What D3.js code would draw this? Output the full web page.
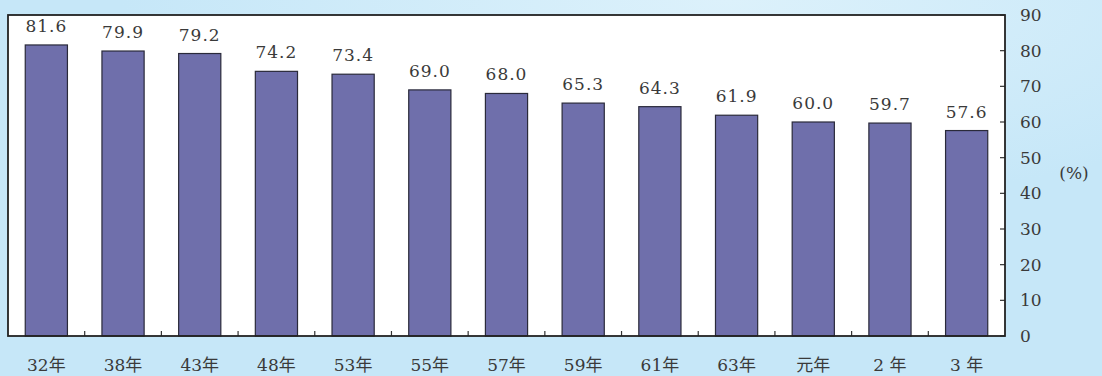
<!DOCTYPE html>
<html>
<head>
<meta charset="utf-8">
<script src="https://cdn.jsdelivr.net/npm/d3@7"></script>
<style>
  html, body { margin: 0; padding: 0; background: #c6e7f8; }
  svg { display: block; }
  .serif { font-family: "DejaVu Serif", "Liberation Serif", serif; }
  .cat { font-family: "DejaVu Serif", "Noto Sans CJK JP", serif; }
</style>
</head>
<body>
<svg id="chart" width="1102" height="376"></svg>
<script>
// Years (Showa / Heisei era) and the share in percent
const categories = ["32年", "38年", "43年", "48年", "53年", "55年", "57年", "59年", "61年", "63年", "元年", "2 年", "3 年"];
const values = [81.6, 79.9, 79.2, 74.2, 73.4, 69.0, 68.0, 65.3, 64.3, 61.9, 60.0, 59.7, 57.6];
const yTicks = [0, 10, 20, 30, 40, 50, 60, 70, 80, 90];
const unitLabel = "(%)";

const svg = d3.select("#chart");
const W = 1102, H = 376;
const plot = { left: 8, top: 15, right: 1005, bottom: 336 };
const textColor = "#3a3a3a";

// soft light-blue backdrop with a brighter patch near the top
const defs = svg.append("defs");
const grad = defs.append("radialGradient").attr("id", "bg")
  .attr("cx", "0.66").attr("cy", "0.0").attr("r", "0.55");
grad.append("stop").attr("offset", "0").attr("stop-color", "#dcf1fb");
grad.append("stop").attr("offset", "1").attr("stop-color", "#c6e7f8");
svg.append("rect").attr("width", W).attr("height", H).attr("fill", "url(#bg)");

const x = d3.scaleBand()
  .domain(categories)
  .range([plot.left, plot.right])
  .paddingInner(0.45)
  .paddingOuter(0.225);

const y = d3.scaleLinear().domain([0, 90]).range([plot.bottom, plot.top]);

// white plotting area
svg.append("rect")
  .attr("x", plot.left).attr("y", plot.top)
  .attr("width", plot.right - plot.left).attr("height", plot.bottom - plot.top)
  .attr("fill", "#ffffff");

// bars
svg.append("g").selectAll("rect")
  .data(values)
  .join("rect")
  .attr("x", (d, i) => x(categories[i]))
  .attr("y", d => y(d))
  .attr("width", x.bandwidth())
  .attr("height", d => y(0) - y(d))
  .attr("fill", "#6f6fab")
  .attr("stroke", "#2a2a3a")
  .attr("stroke-width", 1.2);

// value labels
svg.append("g").selectAll("text")
  .data(values)
  .join("text")
  .attr("class", "serif")
  .attr("x", (d, i) => x(categories[i]) + x.bandwidth() / 2)
  .attr("y", d => y(d) - 13)
  .attr("text-anchor", "middle")
  .attr("font-size", 17)
  .attr("letter-spacing", 1)
  .attr("fill", textColor)
  .text(d => d.toFixed(1));

// right axis labels
const yAxis = d3.axisRight(y).tickValues(yTicks).tickSize(0).tickPadding(15);
const ya = svg.append("g").attr("transform", `translate(${plot.right},0)`).call(yAxis);
ya.select(".domain").remove();
ya.selectAll("text")
  .attr("class", "serif")
  .attr("font-family", null)
  .attr("font-size", 17)
  .attr("fill", textColor);

// inward ticks on the right edge
svg.append("g").selectAll("line")
  .data(yTicks)
  .join("line")
  .attr("x1", plot.right - 5).attr("x2", plot.right)
  .attr("y1", d => y(d)).attr("y2", d => y(d))
  .attr("stroke", "#333").attr("stroke-width", 1.2);

// small upward ticks between bars along the baseline
const step = x.step();
const boundaries = categories.slice(1).map(c => x(c) - step * x.paddingInner() / 2);
svg.append("g").selectAll("line")
  .data(boundaries)
  .join("line")
  .attr("x1", d => d).attr("x2", d => d)
  .attr("y1", plot.bottom - 5).attr("y2", plot.bottom)
  .attr("stroke", "#333").attr("stroke-width", 1.2);

// frame
svg.append("rect")
  .attr("x", plot.left).attr("y", plot.top)
  .attr("width", plot.right - plot.left).attr("height", plot.bottom - plot.top)
  .attr("fill", "none")
  .attr("stroke", "#222")
  .attr("stroke-width", 1.8);

// category labels
svg.append("g").selectAll("text")
  .data(categories)
  .join("text")
  .attr("class", "cat")
  .attr("x", d => x(d) + x.bandwidth() / 2)
  .attr("y", 371)
  .attr("text-anchor", "middle")
  .attr("font-size", 17)
  .attr("fill", textColor)
  .text(d => d);

// unit
svg.append("text")
  .attr("class", "serif")
  .attr("x", 1074).attr("y", 179)
  .attr("text-anchor", "middle")
  .attr("font-size", 17)
  .attr("fill", textColor)
  .text(unitLabel);
</script>
</body>
</html>
